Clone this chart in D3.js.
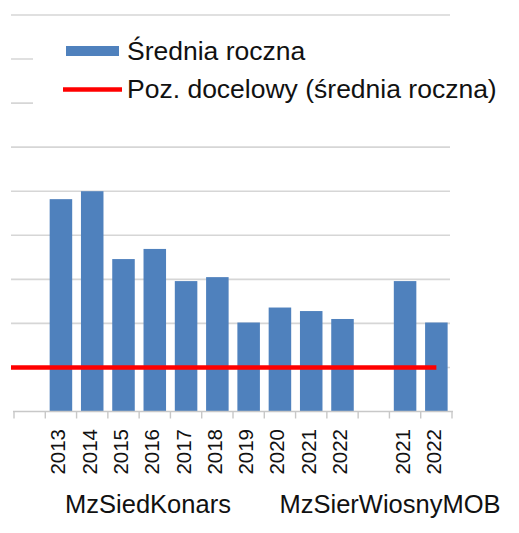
<!DOCTYPE html>
<html>
<head>
<meta charset="utf-8">
<script src="https://cdn.jsdelivr.net/npm/d3@7"></script>
<style>
  body { margin: 0; background: #fff; }
  text { font-family: "Liberation Sans", Arial, sans-serif; fill: #111; }
</style>
</head>
<body>
<script>
// data
const groups = ['MzSiedKonars', 'MzSierWiosnyMOB'];
const years1 = ['2013', '2014', '2015', '2016', '2017', '2018', '2019', '2020', '2021', '2022'];
const values1 = [4.82, 5.0, 3.46, 3.69, 2.96, 3.05, 2.02, 2.36, 2.28, 2.1];
const years2 = ['2021', '2022'];
const values2 = [2.96, 2.02];
const targetValue = 1;
const yTicks = [0, 1, 2, 3, 4, 5, 6, 7, 8, 9];

// slots: blank, group 1 years, blank, group 2 years
const slots = [{ key: 'gap0' }]
    .concat(years1.map((y, i) => ({ key: groups[0] + y, year: y, value: values1[i], group: 0 })))
    .concat([{ key: 'gap1' }])
    .concat(years2.map((y, i) => ({ key: groups[1] + y, year: y, value: values2[i], group: 1 })));

const width = 519, height = 533;

const svg = d3.select('body')
    .append('svg')
    .attr('width', width)
    .attr('height', height);

const x = d3.scaleBand()
    .domain(slots.map(d => d.key))
    .range([14, 452])
    .paddingInner(0.28)
    .paddingOuter(0.14);

const y = d3.scaleLinear()
    .domain([0, 9])
    .range([411.5, 15]);

// gridlines
svg.append('g')
    .selectAll('line')
    .data(yTicks.filter(d => d > 0))
    .join('line')
    .attr('x1', 11)
    .attr('x2', 450)
    .attr('y1', d => y(d))
    .attr('y2', d => y(d))
    .attr('stroke', '#d6d6d6')
    .attr('stroke-width', 1.6);

// legend background hides the gridlines behind it
svg.append('rect')
    .attr('x', 33)
    .attr('y', 28)
    .attr('width', 486)
    .attr('height', 100)
    .attr('fill', '#fff');

// bars
const bars = slots.filter(d => d.value !== undefined);
svg.append('g')
    .selectAll('rect')
    .data(bars)
    .join('rect')
    .attr('x', d => x(d.key))
    .attr('width', x.bandwidth())
    .attr('y', d => y(d.value))
    .attr('height', d => y(0) - y(d.value))
    .attr('fill', '#4f81bd');

// x axis line and ticks at slot boundaries
const axis = svg.append('g');
axis.append('line')
    .attr('x1', 13)
    .attr('x2', 453)
    .attr('y1', y(0))
    .attr('y2', y(0))
    .attr('stroke', '#c8c8c8')
    .attr('stroke-width', 1.6);

const step = x.step();
const bounds = d3.range(slots.length + 1).map(i => x.range()[0] + i * step);
axis.selectAll('line.tick')
    .data(bounds)
    .join('line')
    .attr('class', 'tick')
    .attr('x1', d => d)
    .attr('x2', d => d)
    .attr('y1', y(0))
    .attr('y2', y(0) + 7)
    .attr('stroke', '#c8c8c8')
    .attr('stroke-width', 1.4);

// year labels
axis.selectAll('text.year')
    .data(bars)
    .join('text')
    .attr('class', 'year')
    .attr('transform', d => `translate(${x(d.key) + x.bandwidth() / 2 + 4.5},429) rotate(-90)`)
    .attr('text-anchor', 'end')
    .attr('font-size', 20.5)
    .text(d => d.year);

// group labels
const groupCenters = [148, 390];
axis.selectAll('text.group')
    .data(groups)
    .join('text')
    .attr('class', 'group')
    .attr('x', (d, i) => groupCenters[i])
    .attr('y', 513)
    .attr('text-anchor', 'middle')
    .attr('font-size', 25.5)
    .text(d => d);

// target line
const lastSlot = slots[slots.length - 1];
svg.append('line')
    .attr('x1', 11)
    .attr('x2', x(lastSlot.key) + x.bandwidth() / 2)
    .attr('y1', y(targetValue))
    .attr('y2', y(targetValue))
    .attr('stroke', '#ff0000')
    .attr('stroke-width', 4.5);

// legend
const legend = svg.append('g');
legend.append('rect')
    .attr('x', 66)
    .attr('y', 46)
    .attr('width', 53)
    .attr('height', 10)
    .attr('fill', '#4f81bd');
legend.append('text')
    .attr('x', 127)
    .attr('y', 60)
    .attr('font-size', 26.5)
    .text('Średnia roczna');
legend.append('line')
    .attr('x1', 63)
    .attr('x2', 122)
    .attr('y1', 89.5)
    .attr('y2', 89.5)
    .attr('stroke', '#ff0000')
    .attr('stroke-width', 4.5);
legend.append('text')
    .attr('x', 127)
    .attr('y', 98)
    .attr('font-size', 26.5)
    .text('Poz. docelowy (średnia roczna)');
</script>
</body>
</html>
